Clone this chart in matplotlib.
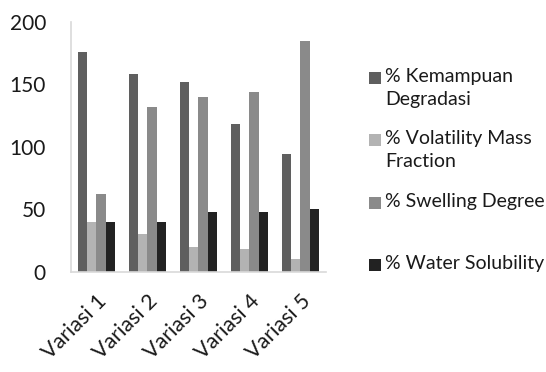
import numpy as np
import matplotlib
matplotlib.use("Agg")
import matplotlib.pyplot as plt
from matplotlib.patches import Rectangle

plt.rcParams['font.family'] = ['Lato', 'DejaVu Sans']

variasi = ['Variasi 1', 'Variasi 2', 'Variasi 3', 'Variasi 4', 'Variasi 5']
kemampuan_degradasi = [176, 158, 152, 118, 94]
volatility_mass = [40, 30, 20, 18, 10]
swelling_degree = [62, 132, 140, 144, 185]
water_solubility = [40, 40, 48, 48, 50]

series = [kemampuan_degradasi, volatility_mass, swelling_degree, water_solubility]
names = ['% Kemampuan\nDegradasi', '% Volatility Mass\nFraction',
         '% Swelling Degree', '% Water Solubility']
colors = ['#5f5f5f', '#b3b3b3', '#8a8a8a', '#222222']

fig = plt.figure(figsize=(5.46, 3.72), dpi=100)
ax = fig.add_axes([0.130, 0.269, 0.467, 0.672])

x = np.arange(len(variasi))
w = 0.73 / 4
for i, (vals, c) in enumerate(zip(series, colors)):
    ax.bar(x - 0.365 + w * (i + 0.5), vals, width=w, color=c, linewidth=0)

ax.set_xlim(-0.5, 4.5)
ax.set_ylim(0, 200)
ax.set_yticks([0, 50, 100, 150, 200])
ax.set_xticks(x)
ax.set_xticklabels(variasi, rotation=45, ha='right', va='top',
                   rotation_mode='anchor', fontsize=15.5, color='#1a1a1a')
ax.tick_params(axis='y', length=0, pad=18, labelsize=15, labelcolor='#1a1a1a')
ax.tick_params(axis='x', length=0, pad=14)
for s in ['top', 'right']:
    ax.spines[s].set_visible(False)
for s in ['left', 'bottom']:
    ax.spines[s].set_color('#d9d9d9')
    ax.spines[s].set_linewidth(1.2)

# legend drawn by hand so the square sits level with the first text line
ys = [78, 140, 203, 265]
for name, c, yp in zip(names, colors, ys):
    fy = 1 - yp / 372
    fig.add_artist(Rectangle((369 / 546, fy - 6 / 372), 12 / 546, 12 / 372,
                             transform=fig.transFigure, color=c, lw=0))
    fig.text(385 / 546, fy + 10 / 372, name, va='top', ha='left', fontsize=14,
             color='#1a1a1a', linespacing=1.45)

fig.savefig('out.png', dpi=100)
